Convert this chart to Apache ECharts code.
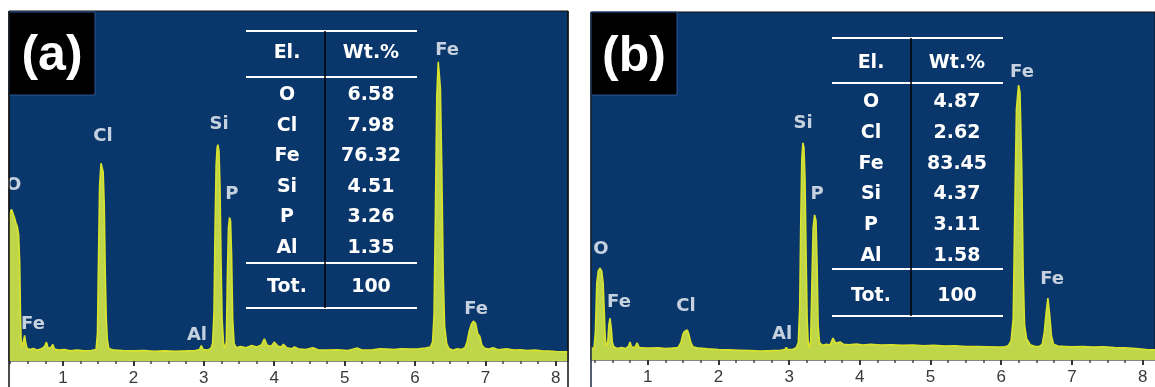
<!DOCTYPE html>
<html><head><meta charset="utf-8">
<script src="https://cdn.jsdelivr.net/npm/echarts@6/dist/echarts.min.js"></script>
<style>html,body{margin:0;padding:0;background:#fff}#c{width:1155px;height:387px}</style>
</head><body><div id="c"></div><script>
// ---- data ----
const spectrumA = [[0.233,40],[0.25,42.5],[0.27,43.3],[0.29,43],[0.31,41],[0.33,39.5],[0.35,38.5],[0.37,36],[0.385,28],[0.395,14],[0.405,6],[0.42,3.8],[0.44,4.2],[0.455,7.3],[0.47,5.2],[0.49,3.6],[0.53,3.3],[0.58,3.6],[0.63,3.1],[0.69,3.4],[0.74,4.2],[0.765,5.4],[0.79,3.6],[0.83,3.9],[0.855,4.7],[0.88,3.4],[0.94,3.1],[1.02,3.3],[1.1,2.9],[1.2,3.1],[1.3,2.9],[1.4,3.0],[1.47,3.3],[1.49,8],[1.505,30],[1.52,50],[1.54,56.5],[1.555,57],[1.57,54],[1.585,45],[1.6,25],[1.615,12],[1.63,6],[1.65,3.6],[1.72,3.1],[1.85,3.0],[2.0,2.9],[2.15,3.0],[2.3,2.8],[2.45,2.9],[2.6,2.8],[2.75,2.9],[2.88,3.0],[2.94,3.3],[2.965,4.4],[2.99,3.3],[3.05,3.1],[3.1,3.6],[3.125,5],[3.145,14],[3.16,38],[3.175,56],[3.19,61],[3.2,61.8],[3.215,60],[3.23,50],[3.245,28],[3.26,12],[3.28,5],[3.3,3.6],[3.32,5.5],[3.335,24],[3.35,38],[3.365,41],[3.38,40],[3.395,30],[3.41,12],[3.43,5],[3.46,3.8],[3.52,4.1],[3.6,3.8],[3.68,4.4],[3.75,4.0],[3.82,4.6],[3.86,6.3],[3.9,4.5],[3.96,4.2],[4.0,5.4],[4.05,4.3],[4.1,4.0],[4.13,4.8],[4.18,3.8],[4.25,3.5],[4.29,4.0],[4.35,3.4],[4.45,3.3],[4.55,3.8],[4.62,3.2],[4.75,3.1],[4.9,3.2],[5.05,3.0],[5.18,3.7],[5.25,3.1],[5.4,3.2],[5.5,3.5],[5.6,3.4],[5.7,3.3],[5.8,3.5],[5.95,3.4],[6.05,3.5],[6.15,3.7],[6.22,4.0],[6.25,5.5],[6.27,13],[6.29,42],[6.31,76],[6.33,85.5],[6.345,85],[6.36,78],[6.38,55],[6.4,25],[6.42,10],[6.45,5],[6.48,3.6],[6.54,3.1],[6.6,3.5],[6.66,3.3],[6.71,3.8],[6.74,5.5],[6.77,8.5],[6.8,10.5],[6.83,11.4],[6.86,10.8],[6.89,7.8],[6.92,7.1],[6.95,4.5],[6.99,3.6],[7.05,3.4],[7.11,3.8],[7.18,3.2],[7.3,3.5],[7.4,3.1],[7.5,3.2],[7.6,3.0],[7.7,3.1],[7.8,2.9],[7.9,2.85],[8.0,2.7],[8.1,2.6],[8.173,2.6]];
const spectrumB = [[0.198,3.5],[0.22,4.0],[0.24,3.2],[0.26,8],[0.28,22],[0.3,25.5],[0.325,26.4],[0.35,25.5],[0.37,22],[0.385,14],[0.4,6],[0.415,4],[0.435,5],[0.45,10],[0.467,12],[0.485,9],[0.5,5],[0.52,3.8],[0.57,3.3],[0.63,3.6],[0.69,3.3],[0.73,4.0],[0.75,5.2],[0.77,3.8],[0.82,3.6],[0.85,4.9],[0.88,3.6],[0.95,3.5],[1.05,3.4],[1.15,3.5],[1.25,3.3],[1.35,3.4],[1.43,3.6],[1.47,5],[1.5,7.5],[1.52,8.2],[1.54,7.8],[1.56,8.6],[1.58,7.5],[1.61,5],[1.64,3.8],[1.72,3.4],[1.85,3.2],[2.0,3.0],[2.15,2.9],[2.3,2.8],[2.45,2.7],[2.6,2.6],[2.75,2.7],[2.88,2.8],[2.94,3.0],[2.96,3.6],[2.98,3.0],[3.05,3.0],[3.1,3.5],[3.13,5],[3.15,15],[3.165,40],[3.18,58],[3.195,62.4],[3.21,61],[3.225,52],[3.24,30],[3.255,12],[3.27,5],[3.285,3.6],[3.305,5.5],[3.32,20],[3.34,38],[3.36,41.7],[3.38,40],[3.395,28],[3.41,10],[3.43,5],[3.47,4.2],[3.53,4.5],[3.58,4.3],[3.62,6.3],[3.66,4.8],[3.72,5.2],[3.77,4.5],[3.85,4.4],[3.95,4.6],[4.05,4.3],[4.15,4.5],[4.3,4.3],[4.45,4.4],[4.6,4.2],[4.75,4.3],[4.9,4.1],[5.05,4.2],[5.2,4.0],[5.35,4.1],[5.5,3.9],[5.65,3.9],[5.8,3.8],[5.95,3.7],[6.05,3.8],[6.1,4.1],[6.14,5.5],[6.17,12],[6.19,40],[6.215,72],[6.245,79],[6.265,77],[6.29,55],[6.31,25],[6.33,10],[6.36,6],[6.385,5.3],[6.41,4.4],[6.48,3.9],[6.54,3.9],[6.58,4.5],[6.61,8],[6.635,13.5],[6.66,17.8],[6.685,13],[6.71,7],[6.74,4.5],[6.8,4.0],[6.9,3.9],[7.0,3.8],[7.15,3.9],[7.3,3.7],[7.45,3.8],[7.6,3.6],[7.75,3.5],[7.9,3.3],[8.05,3.0],[8.175,2.9]];
const peakLabelsA = [['O',0.30,50.1],['Fe',0.574,10.5],['Cl',1.568,64.1],['Al',2.903,7.4],['Si',3.216,67.5],['P',3.40,47.6],['Fe',6.455,88.9],['Fe',6.867,14.8]];
const peakLabelsB = [['O',0.339,31.9],['Fe',0.594,16.7],['Cl',1.542,15.5],['Al',2.90,7.5],['Si',3.197,68.1],['P',3.395,47.7],['Fe',6.294,82.8],['Fe',6.719,23.3]];
const tickLabels = [1,2,3,4,5,6,7,8];
const minorTicks = [0.25,0.5,0.75,1,1.25,1.5,1.75,2,2.25,2.5,2.75,3,3.25,3.5,3.75,4,4.25,4.5,4.75,5,5.25,5.5,5.75,6,6.25,6.5,6.75,7,7.25,7.5,7.75,8];
const headers = ['El.','Wt.%'];
const elements = ['O','Cl','Fe','Si','P','Al'];
const wtA = ['6.58','7.98','76.32','4.51','3.26','1.35'];
const wtB = ['4.87','2.62','83.45','4.37','3.11','1.58'];
const totalLabel = 'Tot.';
const totalValue = '100';
const panelTags = ['(a)','(b)'];

// ---- layout ----
const NAVY = '#0a376b';
const grids = [
  {left:9, top:11, width:559, height:351, min:0.233, max:8.173},
  {left:591, top:12, width:564, height:348, min:0.198, max:8.175}
];
const tables = [
  {x0:246,x1:417,xv:325,yTop:31,yHead:77,yTot:263,yBot:308,headY:53,rowY0:95,rowStep:30.6,totY:287,elX:287,valX:371},
  {x0:832,x1:1003,xv:911,yTop:38,yHead:83,yTot:269,yBot:316,headY:63,rowY0:102,rowStep:30.8,totY:296,elX:871,valX:957}
];
const tags = [{x:9,y:12,w:86,h:83,cx:52,cy:56},{x:591,y:12,w:86,h:83,cx:634,cy:57}];

const chart = echarts.init(document.getElementById('c'));
const xAxes = [], yAxes = [], series = [];
grids.forEach((g,i)=>{
  xAxes.push({type:'value',gridIndex:i,min:g.min,max:g.max,position:'bottom',
    axisLine:{show:false},splitLine:{show:false},axisLabel:{show:false},
    axisTick:{show:true,customValues:minorTicks,length:3,lineStyle:{color:'#444',width:1.5}}});
  xAxes.push({type:'value',gridIndex:i,min:g.min,max:g.max,position:'bottom',
    axisLine:{show:false},splitLine:{show:false},
    axisTick:{show:true,customValues:tickLabels,length:5,lineStyle:{color:'#333',width:2}},
    axisLabel:{show:true,customValues:tickLabels,color:'#3a3a3a',fontSize:17,margin:9,fontFamily:'Liberation Sans'}});
  yAxes.push({type:'value',gridIndex:i,min:0,max:100,show:false});
});
[[spectrumA,peakLabelsA],[spectrumB,peakLabelsB]].forEach(([spec,labs],i)=>{
  series.push({type:'line',xAxisIndex:i*2,yAxisIndex:i,data:spec,showSymbol:false,symbol:'none',
    lineStyle:{color:'#d9e32c',width:1.6},areaStyle:{color:'#bfd64a',opacity:1},z:2});
  series.push({type:'scatter',xAxisIndex:i*2,yAxisIndex:i,symbolSize:1,itemStyle:{color:'rgba(0,0,0,0)'},
    data:labs.map(l=>({name:l[0],value:[l[1],l[2]]})),z:5,
    label:{show:true,position:'inside',formatter:'{b}',color:'#f4f7fb',fontWeight:'bold',fontSize:18,fontFamily:'DejaVu Sans'}});
});

const graphic = [];
const line = (x1,y1,x2,y2,color,w)=>({type:'line',z:100,shape:{x1,y1,x2,y2},style:{stroke:color,lineWidth:w}});
const txt = (x,y,s,font)=>({type:'text',z:101,x,y,style:{text:s,fill:'#fff',font:font,align:'center',verticalAlign:'middle',textAlign:'center',textVerticalAlign:'middle'}});
const TF = 'bold 19px "DejaVu Sans"';
tables.forEach((t,k)=>{
  const vals = k===0?wtA:wtB;
  [t.yTop,t.yHead,t.yTot,t.yBot].forEach(y=>graphic.push(line(t.x0,y,t.x1,y,'#ffffff',2)));
  graphic.push(line(t.xv,t.yTop,t.xv,t.yBot,'#000',1.5));
  graphic.push(txt(t.elX,t.headY,headers[0],TF), txt(t.valX,t.headY,headers[1],TF));
  elements.forEach((e,i)=>{
    graphic.push(txt(t.elX,t.rowY0+i*t.rowStep,e,TF));
    graphic.push(txt(t.valX,t.rowY0+i*t.rowStep,vals[i],TF));
  });
  graphic.push(txt(t.elX,t.totY,totalLabel,TF), txt(t.valX,t.totY,totalValue,TF));
});
tags.forEach((t,k)=>{
  graphic.push({type:'rect',z:100,shape:{x:t.x,y:t.y,width:t.w,height:t.h},style:{fill:'#000',stroke:'#2f5597',lineWidth:1}});
  graphic.push(txt(t.cx,t.cy,panelTags[k],'bold 50px "Liberation Sans"'));
});
// panel frame lines running down to the bottom of the picture
graphic.push(line(9,11,9,387,'#111',1.5), line(568,11,568,387,'#111',1.5), line(591,12,591,387,'#1a2a40',1.5));

chart.setOption({
  animation:false,
  backgroundColor:'#ffffff',
  grid:grids.map(g=>({left:g.left,top:g.top,width:g.width,height:g.height,show:true,backgroundColor:NAVY,borderColor:'#111',borderWidth:1,containLabel:false})),
  xAxis:xAxes, yAxis:yAxes, series:series, graphic:graphic
});
</script></body></html>
